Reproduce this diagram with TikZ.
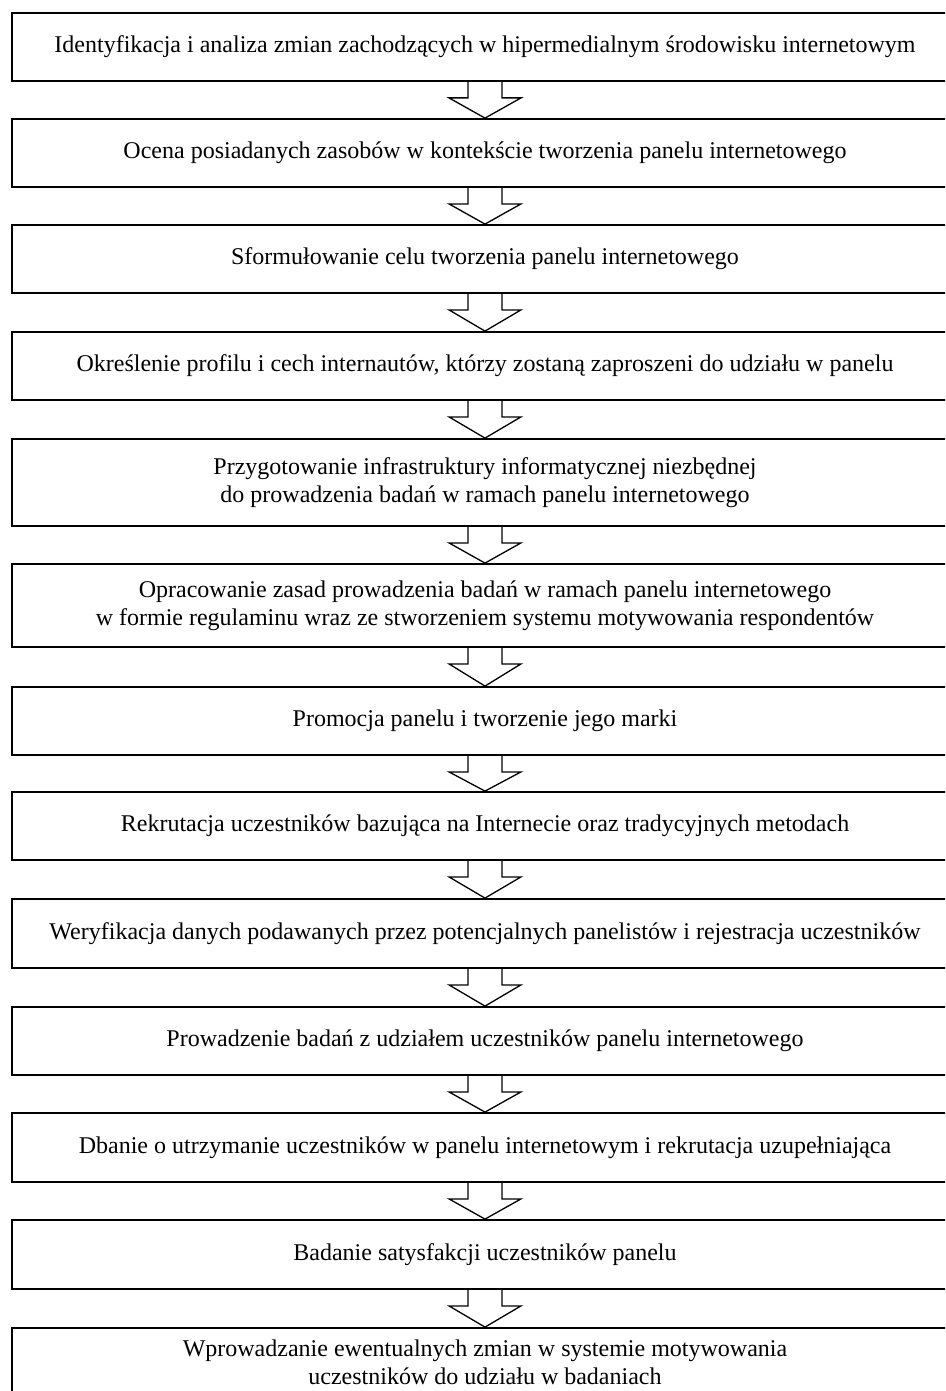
\documentclass[tikz,border=0pt]{standalone}
\usepackage{fontspec}
\setmainfont{Liberation Serif}
\usetikzlibrary{calc}

\begin{document}
\begin{tikzpicture}[x=1pt,y=-1pt,
every node/.style={draw,rectangle,line width=1.8pt,minimum width=946pt,
inner sep=0pt,align=center,font=\fontsize{24}{27.6}\selectfont}]
\useasboundingbox (0,0) rectangle (945,1391);
\clip (0,0) rectangle (945,1391);
\node[minimum height=68pt] (S1) at (485,47) {Identyfikacja i analiza zmian zachodzących w hipermedialnym środowisku internetowym};
\node[minimum height=68pt] (S2) at (485,153) {Ocena posiadanych zasobów w kontekście tworzenia panelu internetowego};
\node[minimum height=68pt] (S3) at (485,259) {Sformułowanie celu tworzenia panelu internetowego};
\node[minimum height=68pt] (S4) at (485,366) {Określenie profilu i cech internautów, którzy zostaną zaproszeni do udziału w panelu};
\node[minimum height=87pt] (S5) at (485,482.5) {Przygotowanie infrastruktury informatycznej niezbędnej\\do prowadzenia badań w ramach panelu internetowego};
\node[minimum height=83pt] (S6) at (485,605.5) {Opracowanie zasad prowadzenia badań w ramach panelu internetowego\\w formie regulaminu wraz ze stworzeniem systemu motywowania respondentów};
\node[minimum height=68pt] (S7) at (485,721) {Promocja panelu i tworzenie jego marki};
\node[minimum height=68pt] (S8) at (485,826) {Rekrutacja uczestników bazująca na Internecie oraz tradycyjnych metodach};
\node[minimum height=69pt] (S9) at (485,933.5) {Weryfikacja danych podawanych przez potencjalnych panelistów i rejestracja uczestników};
\node[minimum height=68pt] (S10) at (485,1041) {Prowadzenie badań z udziałem uczestników panelu internetowego};
\node[minimum height=69pt] (S11) at (485,1147.5) {Dbanie o utrzymanie uczestników w panelu internetowym i rekrutacja uzupełniająca};
\node[minimum height=69pt] (S12) at (485,1254.5) {Badanie satysfakcji uczestników panelu};
\node[minimum height=68pt] (S13) at (485,1362) {Wprowadzanie ewentualnych zmian w systemie motywowania\\uczestników do udziału w badaniach};
% strzalki blokowe
\foreach \a/\b in {S1/S2,S2/S3,S3/S4,S4/S5,S5/S6,S6/S7,S7/S8,S8/S9,S9/S10,S10/S11,S11/S12,S12/S13}
\draw[line width=1.3pt] ($(\a.south)+(-17,0)$) -- ++(0,16) -- ++(-19,0) -- (\b.north)
 -- ($(\a.south)+(36,16)$) -- ++(-19,0) -- ($(\a.south)+(17,0)$);
\end{tikzpicture}
\end{document}
